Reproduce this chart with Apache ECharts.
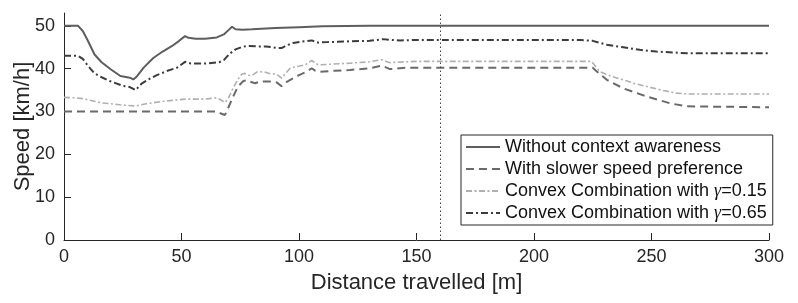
<!DOCTYPE html>
<html>
<head>
<meta charset="utf-8">
<script src="https://cdn.jsdelivr.net/npm/echarts@6/dist/echarts.min.js"></script>
<style>html,body{margin:0;padding:0;background:#fff}#c{width:798px;height:303px}</style>
</head>
<body>
<div id="c"></div>
<script>
// ---- data ----
const seriesNames = [
  'Without context awareness',
  'With slower speed preference',
  'Convex Combination with γ=0.15',
  'Convex Combination with γ=0.65'
];
const xTicks = [0, 50, 100, 150, 200, 250, 300];
const yTicks = [0, 10, 20, 30, 40, 50];
const markerX = 160;

const noCtxX = [0,6,8,10,13,16,20,24,28,29.5,31,34,38,42,46,49,51.5,53,56,60,65,68,70,71.5,73,76,80,90,100,110,130,300];
const noCtxV = [50,50,48.8,46.7,43.3,41.5,39.8,38.3,37.9,37.5,38.2,40.3,42.5,44,45.3,46.5,47.6,47.2,47.0,47.0,47.3,48.0,49.0,49.8,49.2,49.1,49.2,49.5,49.7,49.9,50,50];

const slowX = [0,65,66.5,68.5,70,72,74,76.3,78,79,81.3,83.4,87.7,90.5,92.6,95,97.6,100,103.3,105.4,107,109,115,121.7,130,135.2,138.7,145,150,225,226.6,231,238,248,258,265,300];
const slowV = [30,30,29.6,29.2,31,33.5,35.8,37.1,37.3,37,36.6,37,37,36.8,35.9,37,37.8,38.5,39.3,40.1,39.5,39.3,39.5,39.7,40.1,40.7,39.9,40.2,40.2,40.2,39.4,37.4,35.4,33.5,31.9,31.2,31];

const g15X = [0,5,8,12,16,20,25,30.5,35,41,46,52,60,65,66.5,68.5,70,72,74,75.6,77,79,80.5,82,84.8,87.7,90.5,92.6,94.5,96.2,99,102.6,105.4,108.2,112,122,130,135.2,138.7,145,150,224.5,228,233,238,243,249,255,260.7,265,300];
const g15V = [33.3,33.2,33,32.5,32,31.8,31.5,31.3,31.8,32.3,32.6,32.9,32.9,33.2,32.8,32.1,33.2,35.5,37.5,38.7,38.9,38.4,38.6,39.2,39.3,38.8,38.7,37.8,39,40.1,40.5,40.9,41.9,40.9,41,41.3,41.6,42.1,41.4,41.6,41.7,41.7,39.3,38.2,37.4,36.5,35.7,34.9,34.3,34.1,34.1];

const g65X = [0,6,8,10,13,16,20,25,28,30.5,33,36,39.5,44,48,51.5,54,60,66,68,70.5,73,76,78,82,86,90,92.6,95,97.5,101,105.4,108,112,122,130,135.7,140,143,150,220,225,231,238,245,252,259,265,300];
const g65V = [43,43,42.3,40.8,38.9,38,37,36,35.7,35,36.5,37.5,38.5,39.5,40.2,41.6,41.2,41.2,41.5,42,43.5,44.5,45.1,45.3,45.2,45.2,44.9,44.8,45.5,46,46.3,46.6,46.1,46.2,46.4,46.5,46.9,46.7,46.6,46.7,46.7,46.5,45.6,45,44.4,44,43.8,43.6,43.6];

// ---- build ----
const zip = (xs, vs) => xs.map((x, i) => [x, vs[i]]);
const FONT = 'Liberation Sans, Arial, Helvetica, sans-serif';
const AX = '#262626';

const chart = echarts.init(document.getElementById('c'), null, {renderer: 'canvas'});
chart.setOption({
  animation: false,
  backgroundColor: '#fff',
  grid: {left: 64, right: 29, top: 13, bottom: 63, containLabel: false, outerBoundsMode: 'none'},
  xAxis: {
    type: 'value', min: 0, max: 300, interval: 50,
    name: 'Distance travelled [m]', nameLocation: 'middle', nameGap: 32, nameMoveOverlap: false,
    nameTextStyle: {fontSize: 22, fontFamily: FONT, color: AX},
    axisLine: {show: true, lineStyle: {color: AX, width: 1}},
    axisTick: {show: true, inside: true, length: 7, lineStyle: {color: AX}, customValues: xTicks},
    axisLabel: {fontSize: 18, fontFamily: FONT, color: AX, margin: 8, customValues: xTicks},
    splitLine: {show: false}
  },
  yAxis: {
    type: 'value', min: 0, max: 53, interval: 10,
    name: 'Speed [km/h]', nameLocation: 'middle', nameGap: 30, nameMoveOverlap: false,
    nameTextStyle: {fontSize: 22, fontFamily: FONT, color: AX},
    axisLine: {show: true, lineStyle: {color: AX, width: 1}},
    axisTick: {show: true, inside: true, length: 7, lineStyle: {color: AX}, customValues: yTicks},
    axisLabel: {fontSize: 18, fontFamily: FONT, color: AX, margin: 9, customValues: yTicks},
    splitLine: {show: false}
  },
  legend: {
    orient: 'vertical', left: 461, top: 135,
    itemWidth: 34, itemHeight: 14, itemGap: 4,
    padding: [3, 6, 3, 4],
    borderColor: AX, borderWidth: 1, backgroundColor: '#fff',
    data: seriesNames,
    itemStyle: {opacity: 0, borderWidth: 0},
    formatter: (n) => n.replace('γ', '{g|γ}'),
    textStyle: {fontSize: 18, fontFamily: FONT, color: '#111',
      rich: {g: {fontSize: 18, fontStyle: 'italic', fontFamily: 'Liberation Serif, serif', color: '#111'}}}
  },
  series: [
    {name: seriesNames[0], type: 'line', symbol: 'none', data: zip(noCtxX, noCtxV),
     lineStyle: {color: '#5e5e5e', width: 2, type: 'solid'}, itemStyle: {color: '#5e5e5e'},
     markLine: {silent: true, symbol: 'none', label: {show: false},
       lineStyle: {color: '#444', width: 1, type: [1.5, 2.5]},
       data: [{xAxis: markerX}]}},
    {name: seriesNames[1], type: 'line', symbol: 'none', data: zip(slowX, slowV),
     lineStyle: {color: '#6a6a6a', width: 2, type: [8, 5]}, itemStyle: {color: '#6a6a6a'}},
    {name: seriesNames[2], type: 'line', symbol: 'none', data: zip(g15X, g15V),
     lineStyle: {color: '#b0b0b0', width: 1.6, type: [6, 2.5, 2, 2.5]}, itemStyle: {color: '#b0b0b0'}},
    {name: seriesNames[3], type: 'line', symbol: 'none', data: zip(g65X, g65V),
     lineStyle: {color: '#3c3c3c', width: 2, type: [7, 3, 2, 3]}, itemStyle: {color: '#3c3c3c'}}
  ]
});
</script>
</body>
</html>
